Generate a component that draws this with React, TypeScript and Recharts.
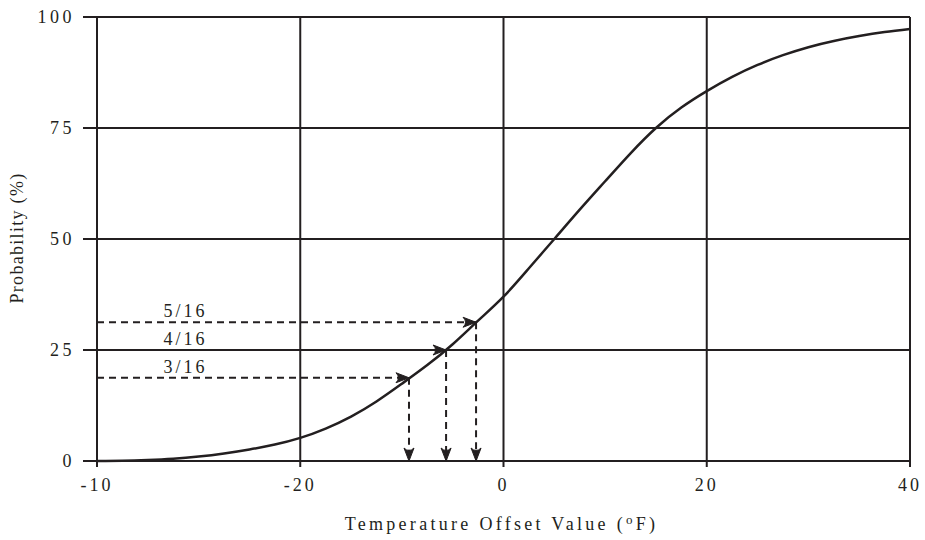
import { LineChart, Line, XAxis, YAxis, CartesianGrid, ReferenceDot } from 'recharts'

// curve: temperature offset (°F) vs probability (%)
const temps = [
  -40, -37.5, -35, -32.5, -30, -27.5, -25, -22.5, -20, -17.5, -15, -12.5, -10, -7.5, -5, -2.5,
  0, 2.5, 5, 7.5, 10, 12.5, 15, 17.5, 20, 22.5, 25, 27.5, 30, 32.5, 35, 37.5, 40,
]
const probs = [
  0, 0.03, 0.2, 0.5, 1.0, 1.7, 2.6, 3.7, 5.2, 7.3, 10.0, 13.4, 17.4, 21.6, 26.3, 31.6,
  37.0, 43.4, 50, 56.6, 63, 69.3, 75, 79.6, 83.3, 86.5, 89.2, 91.4, 93.2, 94.6, 95.7, 96.6, 97.3,
]

// dashed read-off arrows
const arrowFractions = ['3/16', '4/16', '5/16']
const arrowProbs = [18.75, 25, 31.25]
const arrowTemps = [-9.3, -5.65, -2.7]
const fractionLabelTemp = -31.3

const xTicks = [-40, -20, 0, 20, 40]
const xTickLabels = ['-10', '-20', '0', '20', '40']
const yTicks = [0, 25, 50, 75, 100]

const curveData = temps.map((t, i) => ({ x: t, y: probs[i] }))

const INK = '#231f20'
const FONT = '"Liberation Serif", "Times New Roman", serif'

function arrowDot(dir: 'right' | 'down') {
  return (p: any) => {
    const { cx, cy, index, points } = p
    const last = points ? points.length - 1 : 1
    if (index !== last || cx == null) return <g key={`d-${index}`} />
    const d =
      dir === 'right'
        ? `M${cx},${cy} L${cx - 13},${cy - 5} Q${cx - 8},${cy} ${cx - 13},${cy + 5} Z`
        : `M${cx},${cy} L${cx - 5},${cy - 13} Q${cx},${cy - 8} ${cx + 5},${cy - 13} Z`
    return <path key={`d-${index}`} d={d} fill={INK} stroke={INK} strokeWidth={1} />
  }
}

export default function App() {
  return (
    <div style={{ position: 'absolute', left: 0, top: 0, width: 925, height: 540, background: '#fff' }}>
      <LineChart width={925} height={540} margin={{ top: 17, right: 15, bottom: 49, left: 37 }}>
        <CartesianGrid stroke={INK} strokeWidth={2} />
        <XAxis
          type="number"
          dataKey="x"
          domain={[-40, 40]}
          ticks={xTicks}
          interval={0}
          height={30}
          tickSize={6}
          tickMargin={11}
          stroke={INK}
          strokeWidth={2}
          tickFormatter={(v: number) => xTickLabels[xTicks.indexOf(v)]}
          tick={{ fill: INK, fontSize: 18, fontFamily: FONT, letterSpacing: 3 }}
          label={{
            content: (props: any) => {
              const vb = props.viewBox
              return (
                <text
                  x={vb.x + vb.width / 2 - 2}
                  y={vb.y + 69}
                  textAnchor="middle"
                  fill={INK}
                  fontSize={18}
                  fontFamily={FONT}
                  letterSpacing={3.3}
                >
                  Temperature Offset Value (<tspan fontSize={13} dy={-6}>o</tspan>
                  <tspan dy={6}>F)</tspan>
                </text>
              )
            },
          }}
        />
        <YAxis
          type="number"
          domain={[0, 100]}
          ticks={yTicks}
          interval={0}
          width={60}
          tickSize={14}
          tickMargin={8}
          stroke={INK}
          strokeWidth={2}
          tick={{ fill: INK, fontSize: 18, fontFamily: FONT, letterSpacing: 3.5 }}
          label={{
            content: () => (
              <text
                x={0}
                y={0}
                transform="translate(23, 238) rotate(-90)"
                textAnchor="middle"
                fill={INK}
                fontSize={18}
                fontFamily={FONT}
                letterSpacing={1.3}
              >
                Probability (%)
              </text>
            ),
          }}
        />
        <Line
          data={curveData}
          dataKey="y"
          type="natural"
          stroke={INK}
          strokeWidth={2.5}
          dot={false}
          activeDot={false}
          isAnimationActive={false}
        />
        {arrowFractions.map((f, i) => (
          <Line
            key={`h-${f}`}
            data={[
              { x: -40, y: arrowProbs[i] },
              { x: arrowTemps[i], y: arrowProbs[i] },
            ]}
            dataKey="y"
            type="linear"
            stroke={INK}
            strokeWidth={2}
            strokeDasharray="7 5"
            dot={arrowDot('right')}
            activeDot={false}
            isAnimationActive={false}
          />
        ))}
        {arrowFractions.map((f, i) => (
          <Line
            key={`v-${f}`}
            data={[
              { x: arrowTemps[i], y: arrowProbs[i] },
              { x: arrowTemps[i], y: 0 },
            ]}
            dataKey="y"
            type="linear"
            stroke={INK}
            strokeWidth={2}
            strokeDasharray="7 5"
            dot={arrowDot('down')}
            activeDot={false}
            isAnimationActive={false}
          />
        ))}
        {arrowFractions.map((f, i) => (
          <ReferenceDot
            key={`l-${f}`}
            x={fractionLabelTemp}
            y={arrowProbs[i]}
            r={0}
            stroke="none"
            fill="none"
            label={{
              value: f,
              position: 'top',
              offset: 5,
              fill: INK,
              fontSize: 18,
              fontFamily: FONT,
              letterSpacing: 3,
            }}
          />
        ))}
      </LineChart>
    </div>
  )
}
